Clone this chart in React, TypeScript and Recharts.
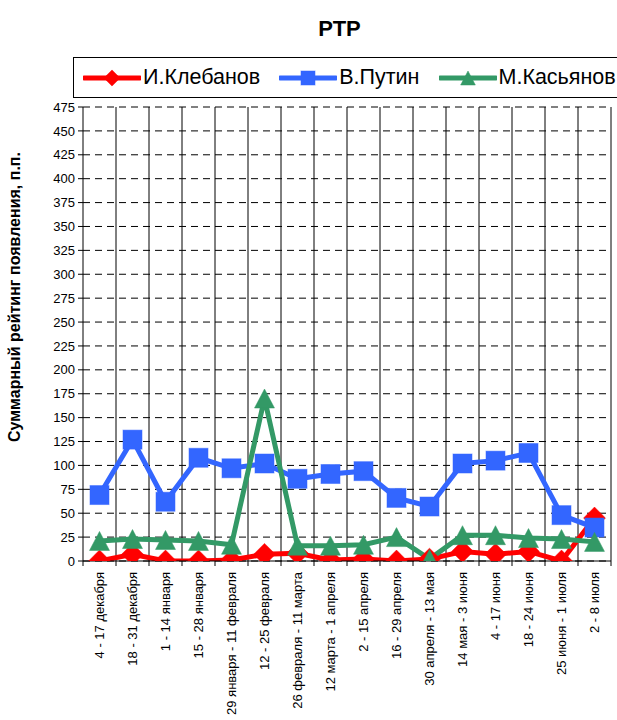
import { LineChart, Line, XAxis, YAxis, CartesianGrid } from "recharts";

const CATEGORIES = [
  "4 - 17 декабря",
  "18 - 31 декабря",
  "1 - 14 января",
  "15 - 28 января",
  "29 января - 11 февраля",
  "12 - 25 февраля",
  "26 февраля - 11 марта",
  "12 марта - 1 апреля",
  "2 - 15 апреля",
  "16 - 29 апреля",
  "30 апреля - 13 мая",
  "14 мая - 3 июня",
  "4 - 17 июня",
  "18 - 24 июня",
  "25 июня - 1 июля",
  "2 - 8 июля",
];

const KLEBANOV = [0, 7, 0, 0, 1, 7, 8, 1, 2, 0, 2, 10, 7, 10, 0, 45];
const PUTIN = [69, 127, 62, 108, 97, 102, 86, 91, 94, 66, 57, 102, 105, 113, 48, 35];
const KASYANOV = [21, 23, 22, 21, 17, 170, 16, 16, 17, 25, 2, 27, 27, 24, 23, 20];

const Y_TICKS = [0, 25, 50, 75, 100, 125, 150, 175, 200, 225, 250, 275, 300, 325, 350, 375, 400, 425, 450, 475];

const TITLE = "РТР";
const Y_LABEL = "Суммарный рейтинг появления, п.п.";

const SERIES = [
  { key: "klebanov", name: "И.Клебанов", color: "#ff0000", marker: "diamond" },
  { key: "putin", name: "В.Путин", color: "#3366ff", marker: "square" },
  { key: "kasyanov", name: "М.Касьянов", color: "#339966", marker: "triangle" },
];

const data = CATEGORIES.map((c, i) => ({
  period: c,
  klebanov: KLEBANOV[i],
  putin: PUTIN[i],
  kasyanov: KASYANOV[i],
}));

const FONT = "'Liberation Sans', Arial, sans-serif";
const W = 617;
const H = 720;
const PLOT_LEFT = 83;
const PLOT_RIGHT = 6;
const PLOT_TOP = 107;
const X_AXIS_H = 159;
const BAND = (W - PLOT_LEFT - PLOT_RIGHT) / CATEGORIES.length;

function Marker({ type, cx, cy, color, size }: { type: string; cx: number; cy: number; color: string; size: number }) {
  const h = size / 2;
  if (type === "square") {
    return <rect x={cx - h} y={cy - h} width={size} height={size} fill={color} stroke={color} strokeOpacity={0.5} strokeWidth={1} />;
  }
  if (type === "diamond") {
    const d = h * 1.15;
    return (
      <polygon
        points={`${cx},${cy - d} ${cx + d},${cy} ${cx},${cy + d} ${cx - d},${cy}`}
        fill={color}
        stroke={color}
        strokeOpacity={0.5}
      />
    );
  }
  return (
    <polygon
      points={`${cx},${cy - h} ${cx + h * 1.05},${cy + h} ${cx - h * 1.05},${cy + h}`}
      fill={color}
      stroke={color}
      strokeOpacity={0.5}
    />
  );
}

function makeDot(type: string, color: string) {
  return (props: any) => {
    const { cx, cy, index } = props;
    if (cx == null || cy == null) return <g key={`d-${index}`} />;
    return (
      <g key={`d-${type}-${index}`}>
        <Marker type={type} cx={cx} cy={cy} color={color} size={19} />
      </g>
    );
  };
}

function XTick(props: any) {
  const { x, y, payload, index } = props;
  const left = x - BAND / 2;
  const top = y - 8;
  return (
    <g>
      <line x1={left} y1={top} x2={left} y2={top + 5} stroke="#000" />
      {index === CATEGORIES.length - 1 && (
        <line x1={x + BAND / 2} y1={top} x2={x + BAND / 2} y2={top + 5} stroke="#000" />
      )}
      <text
        x={x}
        y={top + 11}
        transform={`rotate(-90, ${x}, ${top + 11})`}
        textAnchor="end"
        dy="0.35em"
        fontSize={13}
        fontFamily={FONT}
        fill="#000"
      >
        {payload.value}
      </text>
    </g>
  );
}

function YLabel() {
  return (
    <text
      x={20}
      y={297}
      transform="rotate(-90, 20, 297)"
      textAnchor="middle"
      fontSize={16}
      fontWeight="bold"
      fontFamily={FONT}
      fill="#000"
    >
      {Y_LABEL}
    </text>
  );
}

function LegendBox() {
  return (
    <div
      style={{
        position: "absolute",
        left: 73,
        top: 57,
        width: W,
        height: 39,
        border: "1px solid #000",
        background: "#fff",
        display: "flex",
        alignItems: "center",
        fontFamily: FONT,
        fontSize: 21.5,
        color: "#000",
      }}
    >
      {SERIES.map((s, i) => (
        <div key={s.key} style={{ display: "flex", alignItems: "center", marginLeft: i === 0 ? 9 : 19 }}>
          <svg width={58} height={20}>
            <line x1={1} y1={10} x2={57} y2={10} stroke={s.color} strokeWidth={5} strokeLinecap="round" />
            <Marker type={s.marker} cx={29} cy={10} color={s.color} size={14} />
          </svg>
          <span style={{ marginLeft: 2 }}>{s.name}</span>
        </div>
      ))}
    </div>
  );
}

export default function App() {
  return (
    <div style={{ position: "absolute", left: 0, top: 0, width: W, height: H, background: "#fff", overflow: "hidden" }}>
      <div
        style={{
          position: "absolute",
          left: 0,
          top: 16,
          width: 679,
          textAlign: "center",
          fontFamily: FONT,
          fontWeight: "bold",
          fontSize: 22,
        }}
      >
        {TITLE}
      </div>
      <LegendBox />
      <div style={{ position: "absolute", left: 0, top: 0 }}>
        <LineChart
          width={W}
          height={H}
          data={data}
          margin={{ top: PLOT_TOP, right: PLOT_RIGHT, left: 0, bottom: 0 }}
        >
          <CartesianGrid
            stroke="#000"
            horizontal={false}
            verticalCoordinatesGenerator={({ offset }: any) =>
              CATEGORIES.map((_, i) => offset.left + ((i + 1) * offset.width) / CATEGORIES.length)
            }
          />
          <CartesianGrid stroke="#000" vertical={false} strokeDasharray="7 5" />
          <XAxis
            dataKey="period"
            scale="band"
            interval={0}
            height={X_AXIS_H}
            axisLine={{ stroke: "#000", strokeWidth: 1 }}
            tickLine={false}
            tick={<XTick />}
          />
          <YAxis
            width={PLOT_LEFT}
            domain={[0, 475]}
            ticks={Y_TICKS}
            interval={0}
            allowDataOverflow
            axisLine={{ stroke: "#000" }}
            tickLine={{ stroke: "#000" }}
            tickSize={5}
            tickMargin={3}
            tick={{ fill: "#000", fontSize: 13, fontFamily: FONT }}
            label={<YLabel />}
          />
          {SERIES.map((s) => (
            <Line
              key={s.key}
              dataKey={s.key}
              name={s.name}
              stroke={s.color}
              strokeWidth={5}
              dot={makeDot(s.marker, s.color)}
              activeDot={false}
              isAnimationActive={false}
            />
          ))}
        </LineChart>
      </div>
    </div>
  );
}
